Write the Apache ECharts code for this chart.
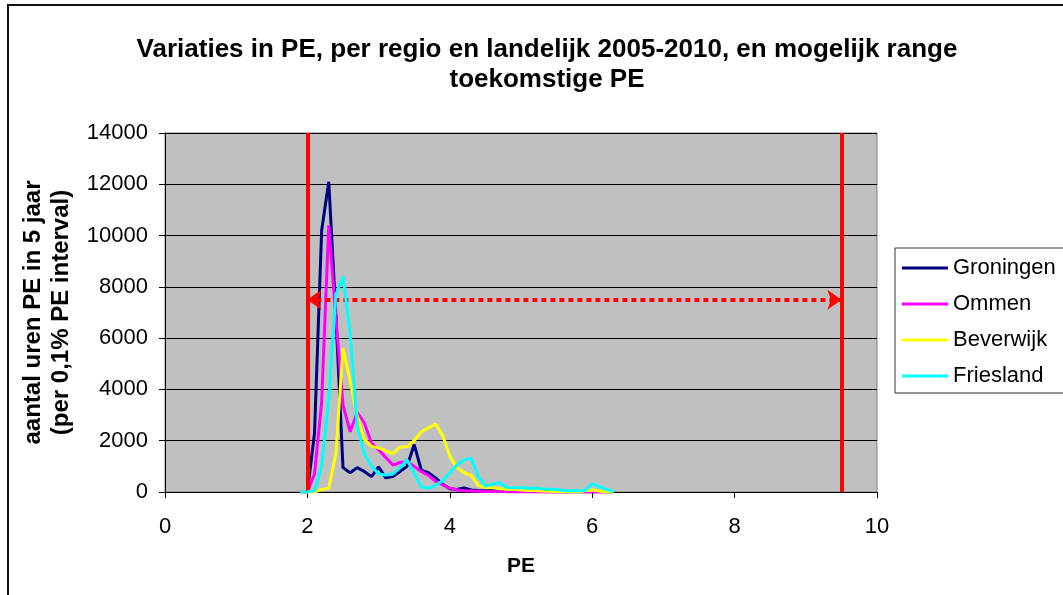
<!DOCTYPE html>
<html><head><meta charset="utf-8">
<script src="https://cdn.jsdelivr.net/npm/echarts@6/dist/echarts.min.js"></script>
<style>html,body{margin:0;padding:0;background:#fff}#c{width:1063px;height:595px}</style>
</head><body><div id="c"></div>
<script>
const pe = [1.9,2.0,2.1,2.2,2.3,2.4,2.5,2.6,2.7,2.8,2.9,3.0,3.1,3.2,3.3,3.4,3.5,3.6,3.7,3.8,3.9,4.0,4.1,4.2,4.3,4.4,4.5,4.6,4.7,4.8,4.9,5.0,5.1,5.2,5.3,5.4,5.5,5.6,5.7,5.8,5.9,6.0,6.1,6.2,6.3];
const groningen = [0,0,2300,10200,12100,6900,950,750,950,800,600,980,550,600,800,1000,1850,850,750,550,300,130,100,160,80,60,50,80,100,60,40,30,20,20,10,10,0,0,0,0,0,0,0,0,0];
const ommen = [0,0,700,3500,10400,6800,3400,2350,3100,2700,1900,1650,1350,1050,1150,1180,1000,800,650,420,280,150,80,50,40,30,20,20,10,10,0,0,0,0,0,0,0,0,0,0,0,0,0,0,0];
const beverwijk = [0,0,0,100,150,1500,5600,4350,2950,2050,1780,1720,1600,1500,1750,1760,2000,2350,2500,2650,2200,1400,950,750,650,260,170,170,130,110,100,80,60,60,40,30,20,10,0,0,50,80,40,0,0];
const friesland = [0,0,50,1000,3600,7700,8400,6200,2550,1500,1000,700,660,700,950,1250,740,200,150,250,450,750,1050,1250,1320,600,230,300,360,180,170,170,150,160,120,110,100,60,50,50,60,330,200,100,20];
const seriesNames = ['Groningen','Ommen','Beverwijk','Friesland'];
const seriesValues = [groningen, ommen, beverwijk, friesland];
const seriesColors = ['#000080','#ff00ff','#ffff00','#00ffff'];
const rangeLimits = [2, 9.5];
const rangeArrowY = 7500;
const yTicks = [0,2000,4000,6000,8000,10000,12000,14000];
const xTicks = [0,2,4,6,8,10];

const FONT = "'Liberation Sans', Arial, sans-serif";
const chart = echarts.init(document.getElementById('c'), null, {renderer:'canvas'});
const series = seriesNames.map((n,i)=>({
  name:n, type:'line', symbol:'none', showSymbol:false,
  data: pe.map((x,j)=>[x, seriesValues[i][j]]),
  lineStyle:{color:seriesColors[i], width:3}, itemStyle:{color:seriesColors[i]},
  z: 2+i, silent:true
}));
series.push({
  name:'range', type:'line', data:[], z:10, silent:true,
  markLine:{
    silent:true, animation:false, label:{show:false},
    symbol:['none','none'],
    data:[
      {xAxis:rangeLimits[0], lineStyle:{color:'#ff0000', width:4, type:'solid'}},
      {xAxis:rangeLimits[1], lineStyle:{color:'#ff0000', width:4, type:'solid'}},
      [{coord:[rangeLimits[0], rangeArrowY], symbol:'arrow', symbolSize:[15,14]},
       {coord:[rangeLimits[1], rangeArrowY], symbol:'arrow', symbolSize:[15,14],
        lineStyle:{color:'#ff0000', width:4, type:[5,4]}}]
    ],
    lineStyle:{color:'#ff0000', width:4, type:[5,4]}
  }
});
chart.setOption({
  animation:false,
  backgroundColor:'#ffffff',
  textStyle:{fontFamily:FONT},
  title:{
    text:'Variaties in PE, per regio en landelijk 2005-2010, en mogelijk range\ntoekomstige PE',
    left:542, top:30, textAlign:'center',
    textStyle:{fontFamily:FONT, fontSize:26, fontWeight:'bold', color:'#000', lineHeight:30}
  },
  graphic:[{type:'rect', shape:{x:8, y:5, width:1200, height:800}, style:{fill:'none', stroke:'#111', lineWidth:2}, silent:true, z:-1}],
  legend:{
    data:seriesNames, orient:'vertical', left:895, top:248,
    padding:[9,40,6,7], itemGap:14, itemWidth:46, itemHeight:3, icon:'rect',
    borderColor:'#333', borderWidth:1, backgroundColor:'#fff',
    textStyle:{fontFamily:FONT, fontSize:22, color:'#000'}
  },
  grid:{left:165, right:186, top:133, bottom:103, show:true, backgroundColor:'#c0c0c0', borderColor:'#808080', borderWidth:1},
  xAxis:{
    type:'value', min:0, max:10, interval:2,
    name:'PE', nameLocation:'middle', nameGap:64,
    nameTextStyle:{fontFamily:FONT, fontSize:21, fontWeight:'bold', color:'#000'},
    axisLine:{show:true, onZero:false, lineStyle:{color:'#000', width:1}},
    axisTick:{show:true, inside:false, length:6, lineStyle:{color:'#000'}},
    axisLabel:{margin:24, fontFamily:FONT, fontSize:22, color:'#000', formatter:v=>String(v)},
    splitLine:{show:false}
  },
  yAxis:{
    type:'value', min:0, max:14000, interval:2000,
    name:'aantal uren PE in 5 jaar\n(per 0,1% PE interval)', nameLocation:'middle', nameRotate:90, nameGap:90,
    nameTextStyle:{fontFamily:FONT, fontSize:24, fontWeight:'bold', color:'#000', lineHeight:28},
    axisLine:{show:true, lineStyle:{color:'#000', width:1}},
    axisTick:{show:true, inside:false, length:6, lineStyle:{color:'#000'}},
    axisLabel:{margin:17, fontFamily:FONT, fontSize:22, color:'#000', formatter:v=>String(v)},
    splitLine:{show:true, lineStyle:{color:'#000', width:1}}
  },
  series: series
});
</script></body></html>
